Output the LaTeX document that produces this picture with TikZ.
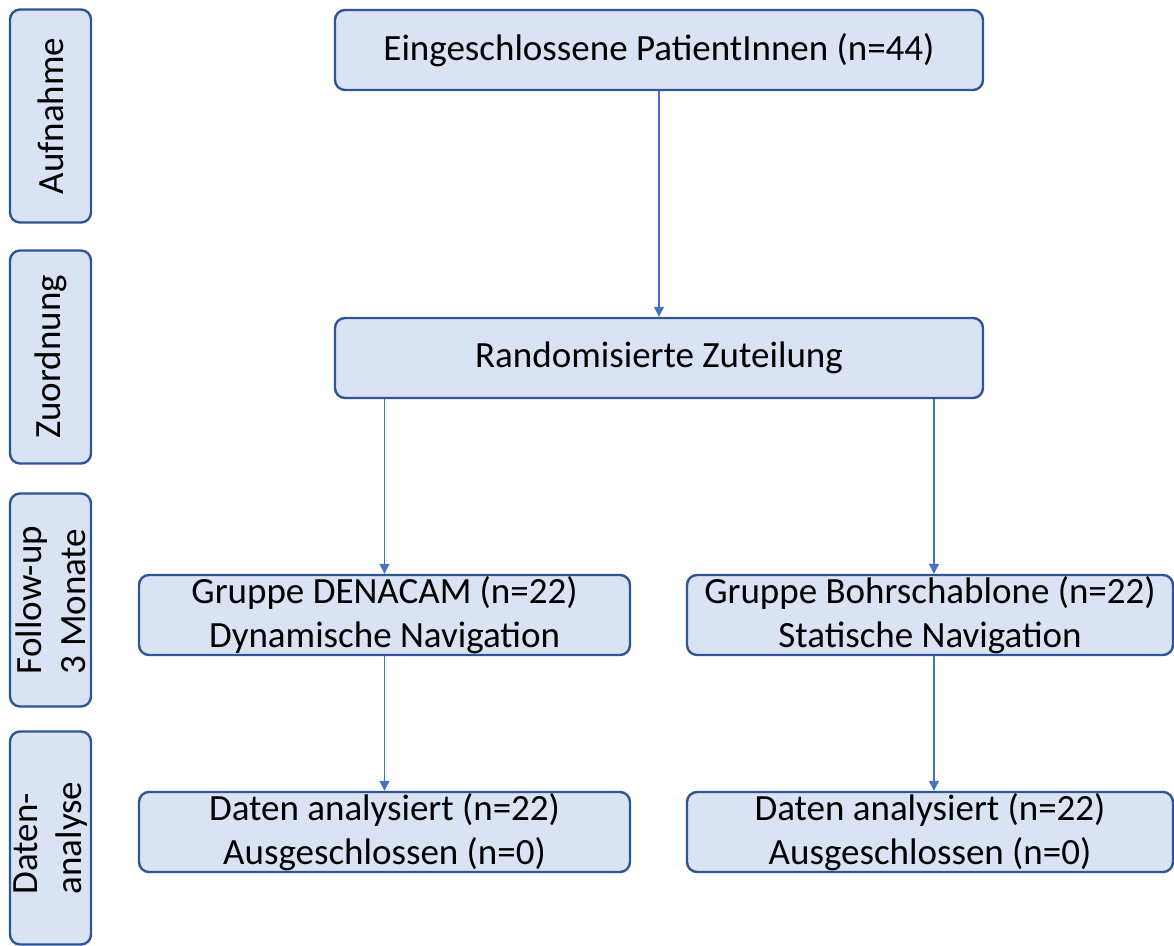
\documentclass[tikz,border=0pt]{standalone}
\usepackage{fontspec}
\setmainfont{Carlito}
\usetikzlibrary{shapes,arrows.meta}
\definecolor{boxfill}{HTML}{DAE3F3}
\definecolor{boxdraw}{HTML}{2F5597}
\definecolor{arrowblue}{HTML}{4472C4}
\tikzstyle{block} = [rectangle, draw=boxdraw, line width=1.2pt, fill=boxfill,
    align=center, rounded corners=5pt, minimum height=40pt, inner sep=0pt,
    font=\fontsize{18.5}{22}\selectfont]
\tikzstyle{phase} = [block, align=left, rotate=90, minimum width=106.5pt, minimum height=40.5pt]
\tikzstyle{line} = [draw=arrowblue, line width=0.6pt, -{Triangle[length=5pt,width=5pt]}]

\begin{document}
\begin{tikzpicture}[x=0.5pt, y=-0.5pt]
		\useasboundingbox (0,0) rectangle (1174,946);
		% phases on the left
		\node [phase] (aufnahme) at (50.5,116) {Aufnahme};
		\node [phase] (zuordnung) at (50.5,357) {Zuordnung};
		\node [phase] (followup) at (50.5,600) {Follow-up\\3 Monate};
		\node [phase] (analyse) at (50.5,838) {Daten-\\analyse};
		
		\node [block, minimum width=324pt] (eingeschlossen) at (659,50) {Eingeschlossene PatientInnen (n=44)};
		\node [block, minimum width=324pt] (random) at (659,358) {Randomisierte Zuteilung};
		\node [block, minimum width=245.5pt] (denacam) at (384.5,615) {Gruppe DENACAM (n=22)\\Dynamische Navigation};
		\node [block, minimum width=243pt] (bohr) at (930,615) {Gruppe Bohrschablone (n=22)\\Statische Navigation};
		\node [block, minimum width=245.5pt] (datenA) at (384.5,832) {Daten analysiert (n=22)\\Ausgeschlossen (n=0)};
		\node [block, minimum width=243pt] (datenB) at (930,832) {Daten analysiert (n=22)\\Ausgeschlossen (n=0)};
		
		\path [line] (eingeschlossen) -- (random);
		\path [line] (denacam.north |- random.south) -- (denacam.north);
		\path [line] ([xshift=2pt]bohr.north |- random.south) -- ([xshift=2pt]bohr.north);
		\path [line] (denacam) -- (datenA);
		\path [line] ([xshift=2pt]bohr.south) -- ([xshift=2pt]datenB.north);
	\end{tikzpicture}
\end{document}
